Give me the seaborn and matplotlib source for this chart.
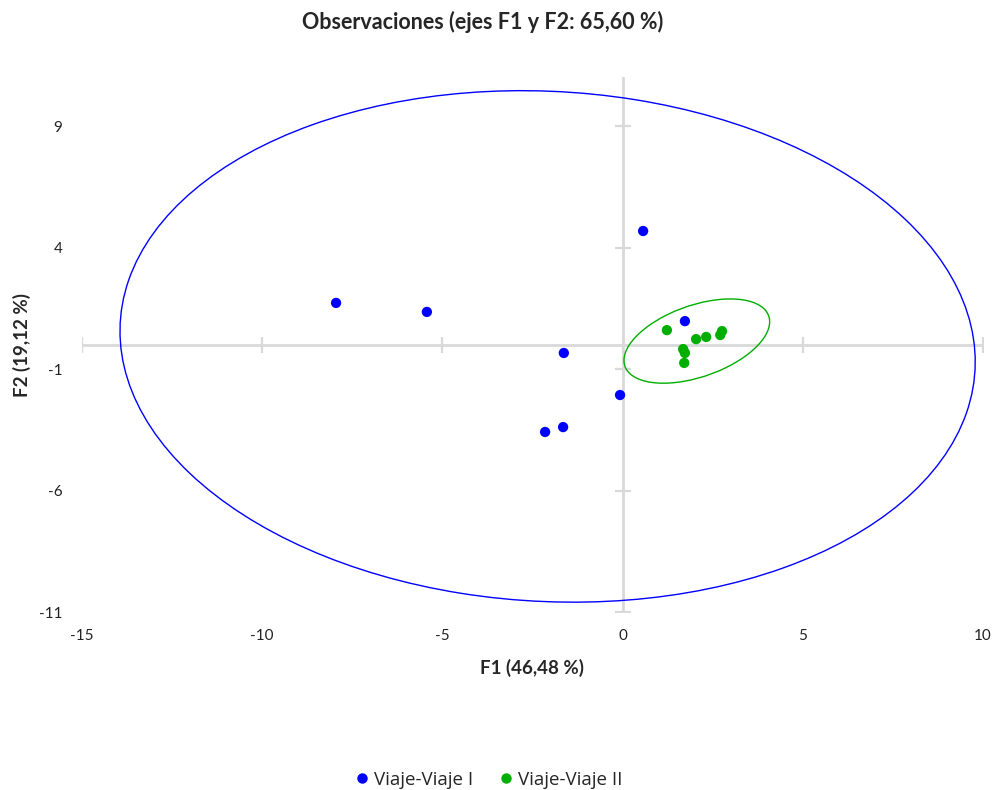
import numpy as np
import pandas as pd
import matplotlib
matplotlib.use("Agg")
import matplotlib.pyplot as plt
from matplotlib.patches import Ellipse
from matplotlib.lines import Line2D
import seaborn as sns

# --- data ---
groups = ["Viaje-Viaje I", "Viaje-Viaje II"]
f1_viaje1 = [0.57, -7.95, -5.43, -1.63, -0.07, -2.15, -1.65, 1.73]
f2_viaje1 = [4.68, 1.72, 1.35, -0.34, -2.07, -3.59, -3.39, 0.97]
f1_viaje2 = [1.23, 2.04, 2.32, 2.71, 2.76, 1.68, 1.73, 1.71]
f2_viaje2 = [0.60, 0.23, 0.32, 0.40, 0.56, -0.18, -0.34, -0.75]

# confidence ellipses: center x, center y, semi-axis a, semi-axis b, angle (deg)
ellipse_viaje1 = [-2.08, -0.07, 11.94, 10.44, -13.3]
ellipse_viaje2 = [2.06, 0.15, 2.29, 1.36, 35.7]

x_ticks = [-15, -10, -5, 0, 5, 10]
y_ticks = [9, 4, -1, -6, -11]
x_lim = [-15, 10]
y_lim = [-11, 11]

title = "Observaciones (ejes F1 y F2: 65,60 %)"
x_label = "F1 (46,48 %)"
y_label = "F2 (19,12 %)"

colors = {"Viaje-Viaje I": "#0000FF", "Viaje-Viaje II": "#00AE00"}

df = pd.DataFrame({
    "F1": f1_viaje1 + f1_viaje2,
    "F2": f2_viaje1 + f2_viaje2,
    "Grupo": [groups[0]] * len(f1_viaje1) + [groups[1]] * len(f1_viaje2),
})

sns.set_theme(style="white")
plt.rcParams["font.family"] = ["Lato", "DejaVu Sans"]

fig = plt.figure(figsize=(9.95, 7.9), dpi=100)
ax = fig.add_axes([0.0824, 0.2253, 0.9055, 0.6767])

# axis cross lines
axis_col = "#D9D9D9"
ax.axhline(0, color=axis_col, lw=2, zorder=1)
ax.axvline(0, color=axis_col, lw=2, zorder=1)
ax.plot(x_ticks, [0] * len(x_ticks), ls="none", marker="|", ms=11, mew=1.6,
        color=axis_col, zorder=1)
ax.plot([0] * len(y_ticks), y_ticks, ls="none", marker="_", ms=11, mew=1.6,
        color=axis_col, zorder=1)

# ellipses
for e, g in [(ellipse_viaje1, groups[0]), (ellipse_viaje2, groups[1])]:
    ax.add_patch(Ellipse((e[0], e[1]), 2 * e[2], 2 * e[3], angle=e[4],
                         fill=False, edgecolor=colors[g], lw=1.0, zorder=2))

sns.scatterplot(data=df, x="F1", y="F2", hue="Grupo", palette=colors,
                s=55, edgecolor="none", legend=False, ax=ax, zorder=3)

ax.set_xlim(x_lim)
ax.set_ylim(y_lim)
ax.set_xticks(x_ticks)
ax.set_xticklabels([str(v) for v in x_ticks])
ax.set_yticks(y_ticks)
ax.set_yticklabels([str(v) for v in y_ticks])
ax.tick_params(axis="both", length=0, labelsize=11, colors="#222222")
ax.tick_params(axis="x", pad=12)
ax.tick_params(axis="y", pad=14)
for s in ax.spines.values():
    s.set_visible(False)
ax.grid(False)

ax.set_xlabel(x_label, fontsize=13.5, fontweight="bold", labelpad=12)
ax.set_ylabel(y_label, fontsize=13.5, fontweight="bold", labelpad=6)
fig.text(0.485, 0.972, title, ha="center", va="center", fontsize=15.5,
         fontweight="bold")

handles = [Line2D([0], [0], marker="o", ls="none", color=colors[g], ms=7.5,
                  mec="none", label=g) for g in groups]
fig.legend(handles=handles, loc="center", bbox_to_anchor=(0.49, 0.013),
           ncol=2, frameon=False, handletextpad=0.1, columnspacing=1.3,
           prop={"family": ["Open Sans", "DejaVu Sans"], "size": 13.5},
           handlelength=1.0)

fig.savefig("out.png", dpi=100)
